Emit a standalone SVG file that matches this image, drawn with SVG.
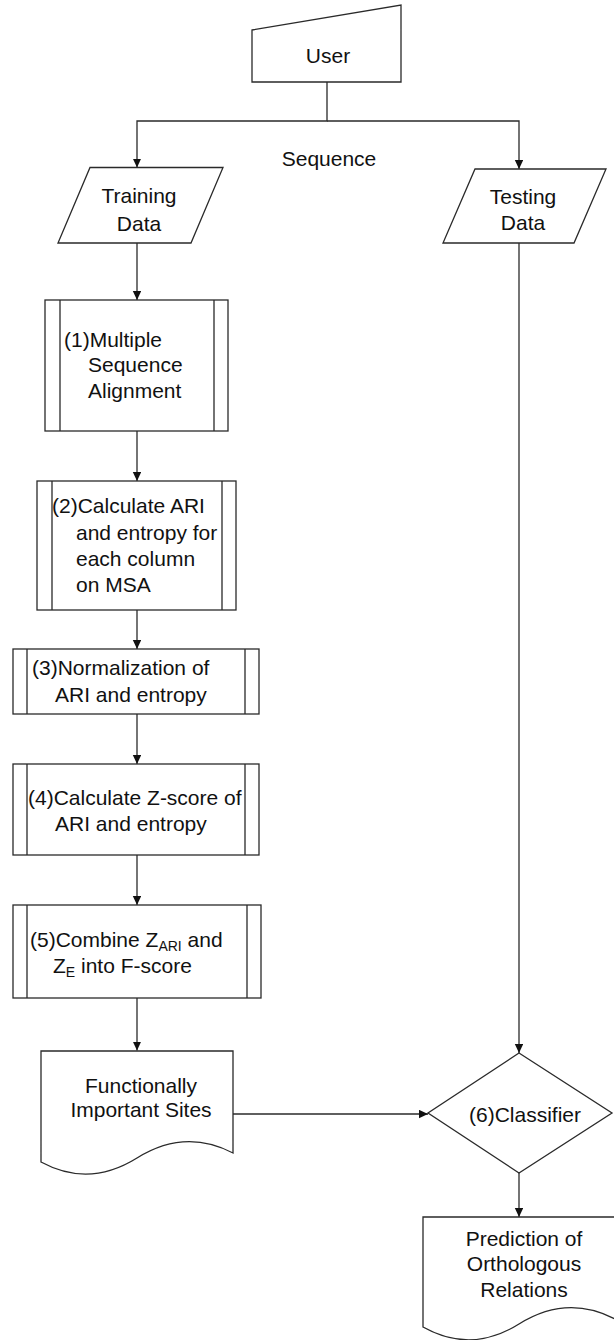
<svg xmlns="http://www.w3.org/2000/svg" width="614" height="1340" viewBox="0 0 614 1340">
<style>
.s{fill:#fff;stroke:#2a2a2a;stroke-width:1.3}
.c{fill:none;stroke:#2a2a2a;stroke-width:1.3}
.t{font-family:"Liberation Sans",Arial,sans-serif;font-size:21px;fill:#111}
.m{text-anchor:middle}
.sub{font-size:14px}
</style>
<defs>
<marker id="ah" markerUnits="userSpaceOnUse" markerWidth="10" markerHeight="10" refX="9" refY="4.2" orient="auto">
<path d="M0,0 L9,4.2 L0,8.4 z" fill="#111"/>
</marker>
</defs>
<g id="connectors">
<path class="c" d="M327,82 V121 H137 V167.5" marker-end="url(#ah)"/>
<path class="c" d="M327,121 H519 V169" marker-end="url(#ah)"/>
<path class="c" d="M137,243 V300" marker-end="url(#ah)"/>
<path class="c" d="M137,431 V481" marker-end="url(#ah)"/>
<path class="c" d="M137,610 V649" marker-end="url(#ah)"/>
<path class="c" d="M137,714 V764" marker-end="url(#ah)"/>
<path class="c" d="M137,855 V905" marker-end="url(#ah)"/>
<path class="c" d="M137,998 V1050.5" marker-end="url(#ah)"/>
<path class="c" d="M233,1114 H428" marker-end="url(#ah)"/>
<path class="c" d="M519,243 V1053" marker-end="url(#ah)"/>
<path class="c" d="M519,1173 V1217" marker-end="url(#ah)"/>
<text class="t m" x="329" y="166">Sequence</text>
</g>
<g id="user">
<path class="s" d="M252,30 L401,5 V82 H252 Z"/>
<text class="t m" x="328" y="63">User</text>
</g>
<g id="training">
<path class="s" d="M90,167.5 H223 L191,243 H58 Z"/>
<text class="t m" x="139" y="203">Training</text>
<text class="t m" x="139" y="231">Data</text>
</g>
<g id="testing">
<path class="s" d="M475,169 H606 L574,243 H443 Z"/>
<text class="t m" x="523" y="204">Testing</text>
<text class="t m" x="523" y="230">Data</text>
</g>
<g id="step1">
<rect class="s" x="45" y="300" width="183" height="131"/>
<path class="c" d="M60,300 V431 M214,300 V431"/>
<text class="t" x="64" y="347">(1)Multiple</text>
<text class="t" x="88" y="372">Sequence</text>
<text class="t" x="88" y="398">Alignment</text>
</g>
<g id="step2">
<rect class="s" x="37" y="481" width="199" height="129"/>
<path class="c" d="M52,481 V610 M222,481 V610"/>
<text class="t" x="52" y="513">(2)Calculate ARI</text>
<text class="t" x="76" y="540">and entropy for</text>
<text class="t" x="76" y="566">each column</text>
<text class="t" x="76" y="592">on MSA</text>
</g>
<g id="step3">
<rect class="s" x="13" y="649" width="246" height="65"/>
<path class="c" d="M27,649 V714 M245,649 V714"/>
<text class="t" x="32" y="675">(3)Normalization of</text>
<text class="t" x="55" y="702">ARI and entropy</text>
</g>
<g id="step4">
<rect class="s" x="13" y="764" width="246" height="91"/>
<path class="c" d="M27,764 V855 M245,764 V855"/>
<text class="t" x="28" y="805">(4)Calculate Z-score of</text>
<text class="t" x="55" y="831">ARI and entropy</text>
</g>
<g id="step5">
<rect class="s" x="13" y="905" width="248" height="93"/>
<path class="c" d="M27,905 V998 M247,905 V998"/>
<text class="t" x="30" y="947">(5)Combine Z<tspan class="sub" dy="4">ARI</tspan><tspan dy="-4"> and</tspan></text>
<text class="t" x="53" y="973">Z<tspan class="sub" dy="4">E</tspan><tspan dy="-4"> into F-score</tspan></text>
</g>
<g id="sites">
<path class="s" d="M41,1051 H233 V1153 Q185,1128 137,1158 T41,1162 Z"/>
<text class="t m" x="141" y="1093">Functionally</text>
<text class="t m" x="141" y="1117">Important Sites</text>
</g>
<g id="classifier">
<path class="s" d="M519,1053 L612,1113 L519,1173 L428,1113 Z"/>
<text class="t m" x="525" y="1122">(6)Classifier</text>
</g>
<g id="prediction">
<path class="s" d="M423,1217 H615 V1319 Q567,1294 519,1324 T423,1327 Z"/>
<text class="t m" x="524" y="1246">Prediction of</text>
<text class="t m" x="524" y="1271">Orthologous</text>
<text class="t m" x="524" y="1297">Relations</text>
</g>
</svg>
